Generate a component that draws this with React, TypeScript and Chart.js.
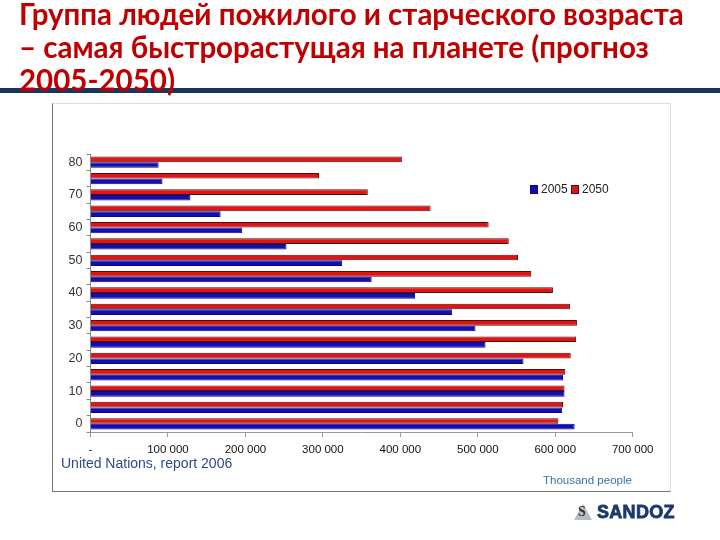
import React, { useEffect, useRef } from "react";
import { Chart, registerables } from "chart.js";

Chart.register(...registerables);

const ageGroups = ["80", "75", "70", "65", "60", "55", "50", "45", "40", "35", "30", "25", "20", "15", "10", "5", "0"];
const values2005 = [88, 93, 129, 168, 196, 253, 325, 363, 419, 467, 497, 510, 559, 610, 612, 609, 625].map((v) => v * 1000);
const values2050 = [402, 295, 358, 439, 514, 540, 552, 569, 597, 619, 628, 627, 620, 613, 612, 610, 604].map((v) => v * 1000);
const xMax = 700000;
const xStep = 100000;

const BLUE = "#120eb0";
const BLUE_BORDER = "#0a0880";
const RED = "#dc1616";
const RED_BORDER = "#5a0808";

function formatTick(v: number): string {
  if (v === 0) return "-";
  return String(Math.round(v / 1000)) + " 000";
}

export default function App() {
  const canvasRef = useRef<HTMLCanvasElement | null>(null);

  useEffect(() => {
    if (!canvasRef.current) return;
    const chart = new Chart(canvasRef.current, {
      type: "bar",
      data: {
        labels: ageGroups,
        datasets: [
          {
            label: "2050",
            data: values2050,
            backgroundColor: RED,
            borderColor: RED_BORDER,
            borderWidth: 1,
            categoryPercentage: 0.69,
            barPercentage: 1.0,
          },
          {
            label: "2005",
            data: values2005,
            backgroundColor: BLUE,
            borderColor: BLUE_BORDER,
            borderWidth: 1,
            categoryPercentage: 0.69,
            barPercentage: 1.0,
          },
        ],
      },
      options: {
        indexAxis: "y",
        animation: false,
        responsive: false,
        maintainAspectRatio: false,
        layout: { padding: { left: 50.5, top: 154, right: 87.3, bottom: 78 } },
        plugins: {
          legend: { display: false },
          title: { display: false },
          tooltip: { enabled: false },
        },
        scales: {
          x: {
            type: "linear",
            min: 0,
            max: xMax,
            afterFit: (scale: any) => {
              scale.height = 30;
            },
            ticks: {
              stepSize: xStep,
              padding: 6,
              color: "#111",
              font: { family: "'Liberation Sans', Arial, sans-serif", size: 11.5 },
              callback: (v: any) => formatTick(Number(v)),
            },
            grid: {
              display: true,
              drawOnChartArea: false,
              drawTicks: true,
              tickLength: 5,
              color: "#999",
            },
            border: { display: true, color: "#999", width: 1 },
          },
          y: {
            type: "category",
            afterFit: (scale: any) => {
              scale.width = 40;
            },
            ticks: {
              autoSkip: false,
              padding: 4,
              color: "#333",
              font: { family: "'Liberation Sans', Arial, sans-serif", size: 12.5 },
              callback: function (this: any, _v: any, index: number) {
                const lab = ageGroups[index];
                return Number(lab) % 10 === 0 ? lab : "";
              },
            },
            grid: {
              display: true,
              drawOnChartArea: false,
              drawTicks: true,
              tickLength: 4,
              offset: true,
              color: "#888",
            },
            border: { display: true, color: "#888", width: 1 },
          },
        },
      },
    });
    return () => chart.destroy();
  }, []);

  const legendBox = (color: string, border: string): React.CSSProperties => ({
    position: "absolute",
    width: 6,
    height: 7,
    background: color,
    border: `1px solid ${border}`,
  });

  return (
    <div style={{ position: "absolute", left: 0, top: 0, width: 720, height: 540, background: "#fff", overflow: "hidden" }}>
      {/* chart frame */}
      <div
        style={{
          position: "absolute",
          left: 52,
          top: 103,
          width: 617,
          height: 387,
          borderTop: "1px solid #ddd",
          borderRight: "1px solid #ddd",
          borderLeft: "1px solid #777",
          borderBottom: "1px solid #777",
        }}
      />
      {/* rule under title */}
      <div style={{ position: "absolute", left: 0, top: 88, width: 720, height: 5, background: "#17375e" }} />
      {/* title */}
      <div
        style={{
          position: "absolute",
          left: 19,
          top: -3,
          fontFamily: "Lato, 'Open Sans', sans-serif",
          fontWeight: 700,
          fontSize: 29.5,
          lineHeight: "33px",
          color: "#c00000",
          whiteSpace: "nowrap",
          zIndex: 2,
        }}
      >
        Группа людей пожилого и старческого возраста
        <br />– самая быстрорастущая на планете (прогноз
        <br />
        2005-2050)
      </div>
      <canvas ref={canvasRef} width={720} height={540} style={{ position: "absolute", left: 0, top: 0, width: 720, height: 540 }} />
      {/* legend */}
      <div style={{ ...legendBox(BLUE, BLUE_BORDER), left: 530, top: 185 }} />
      <div
        style={{ position: "absolute", left: 541, top: 181, fontFamily: "'Liberation Sans', Arial, sans-serif", fontSize: 12, color: "#222", lineHeight: "16px" }}
      >
        2005
      </div>
      <div style={{ ...legendBox(RED, RED_BORDER), left: 571, top: 185 }} />
      <div
        style={{ position: "absolute", left: 582, top: 181, fontFamily: "'Liberation Sans', Arial, sans-serif", fontSize: 12, color: "#222", lineHeight: "16px" }}
      >
        2050
      </div>
      {/* source */}
      <div
        style={{ position: "absolute", left: 61, top: 454, fontFamily: "'Liberation Sans', Arial, sans-serif", fontSize: 14, color: "#2d4a8a", lineHeight: "18px", whiteSpace: "nowrap" }}
      >
        United Nations, report 2006
      </div>
      <div
        style={{ position: "absolute", left: 543, top: 472, fontFamily: "'Liberation Sans', Arial, sans-serif", fontSize: 11.5, color: "#3b72a8", lineHeight: "16px", whiteSpace: "nowrap" }}
      >
        Thousand people
      </div>
      {/* logo */}
      <div
        style={{
          position: "absolute",
          left: 574,
          top: 504,
          width: 0,
          height: 0,
          borderLeft: "9px solid transparent",
          borderRight: "9px solid transparent",
          borderBottom: "16px solid #b8bcc4",
        }}
      />
      <div
        style={{ position: "absolute", left: 578, top: 504, fontFamily: "'Liberation Serif', serif", fontSize: 14, color: "#333", lineHeight: "16px", fontWeight: 700 }}
      >
        S
      </div>
      <div
        style={{
          position: "absolute",
          left: 597,
          top: 502,
          fontFamily: "'Liberation Sans', Arial, sans-serif",
          fontWeight: 900,
          fontSize: 18,
          letterSpacing: 0.3,
          color: "#1b3a6b",
          WebkitTextStroke: "0.8px #1b3a6b",
          lineHeight: "20px",
          whiteSpace: "nowrap",
        }}
      >
        SANDOZ
      </div>
    </div>
  );
}
